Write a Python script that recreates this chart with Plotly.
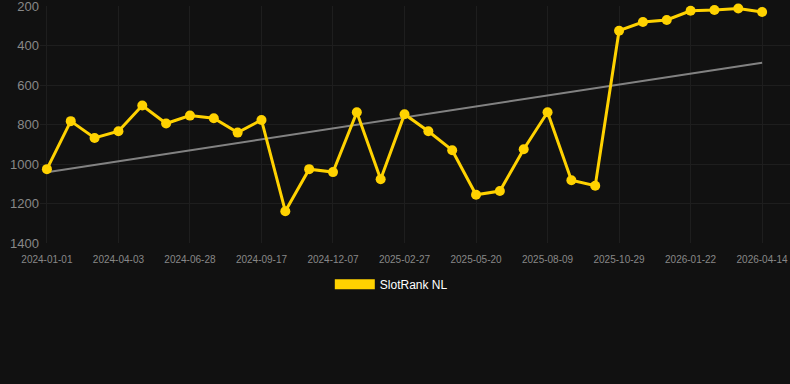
import plotly.graph_objects as go
import numpy as np

dates = [
    "2024-01-01", "2024-02-01", "2024-03-03", "2024-04-03", "2024-05-02", "2024-05-31",
    "2024-06-28", "2024-07-25", "2024-08-21", "2024-09-17", "2024-10-14", "2024-11-10",
    "2024-12-07", "2025-01-03", "2025-01-31", "2025-02-27", "2025-03-26", "2025-04-22",
    "2025-05-20", "2025-06-16", "2025-07-13", "2025-08-09", "2025-09-05", "2025-10-02",
    "2025-10-29", "2025-11-26", "2025-12-24", "2026-01-22", "2026-02-18", "2026-03-17",
    "2026-04-14",
]
rank = [
    1026, 783, 868, 834, 704, 795, 755, 768, 841, 777, 1239, 1026, 1041, 738, 1077,
    748, 834, 930, 1156, 1137, 925, 738, 1082, 1110, 325, 281, 271, 224, 220, 213, 230,
]
tick_labels = dates[::3]
y_ticks = [200, 400, 600, 800, 1000, 1200, 1400]
series_name = "SlotRank NL"

idx = np.arange(len(rank))
slope, intercept = np.polyfit(idx, rank, 1)
trend = [intercept + slope * idx[0], intercept + slope * idx[-1]]

gold = "#FFD200"

fig = go.Figure()
fig.add_trace(go.Scatter(
    x=[dates[0], dates[-1]], y=trend, mode="lines",
    line=dict(color="rgba(150,150,150,0.85)", width=2),
    showlegend=False, hoverinfo="skip", cliponaxis=False,
))
fig.add_trace(go.Scatter(
    x=dates, y=rank, mode="lines+markers",
    line=dict(color=gold, width=3),
    marker=dict(color=gold, size=10),
    showlegend=False, name=series_name, cliponaxis=False,
))
fig.add_trace(go.Scatter(
    x=[None], y=[None], mode="lines",
    line=dict(color=gold, width=12),
    name=series_name, showlegend=True,
))

fig.update_layout(
    width=790, height=384,
    paper_bgcolor="#111111", plot_bgcolor="#111111",
    margin=dict(l=40, r=0, t=6, b=140.7),
    font=dict(family="Arial, Liberation Sans, sans-serif"),
    xaxis=dict(
        type="category", categoryorder="array", categoryarray=dates,
        range=[-0.29, 31.17],
        tickmode="array", tickvals=tick_labels, ticktext=tick_labels,
        tickfont=dict(color="#888888", size=10),
        ticklabelstandoff=9,
        showgrid=True, gridcolor="#1e1e1e", gridwidth=1,
        zeroline=False, showline=False, ticks="", ticklen=0,
    ),
    yaxis=dict(
        range=[1400, 200],
        tickmode="array", tickvals=y_ticks, ticktext=[str(v) for v in y_ticks],
        tickfont=dict(color="#888888", size=13),
        ticklabeloverflow="allow",
        showgrid=True, gridcolor="#1e1e1e", gridwidth=1,
        zeroline=False, showline=False, ticks="",
    ),
    legend=dict(
        orientation="h", xref="paper", x=0.4684, xanchor="center",
        y=-0.1125, yanchor="top",
        font=dict(color="#ffffff", size=12),
        itemwidth=40, bgcolor="rgba(0,0,0,0)",
    ),
)

fig.write_html("out.html")
